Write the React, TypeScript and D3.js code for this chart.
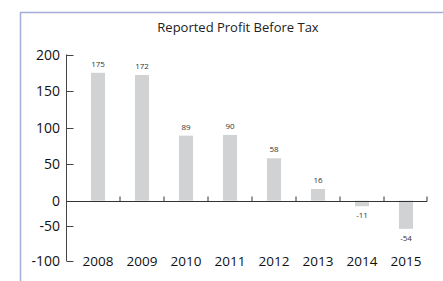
import React, { useRef, useEffect } from "react";
import * as d3 from "d3";

const years = ["2008", "2009", "2010", "2011", "2012", "2013", "2014", "2015"];
const profit = [175, 172, 89, 90, 58, 16, -11, -54];
const yTicks = [200, 150, 100, 50, 0, -50, -100];
const title = "Reported Profit Before Tax";

export default function App() {
  const ref = useRef<SVGSVGElement | null>(null);

  useEffect(() => {
    if (!ref.current) return;
    const W = 443;
    const H = 281;
    const svg = d3.select(ref.current);
    svg.selectAll("*").remove();

    const font = "'Open Sans', 'DejaVu Sans', sans-serif";
    const axisX = 66.5;

    // frame (only top/left visible in the crop)
    svg
      .append("path")
      .attr("d", `M20.5,${H} V12.5 H${W}`)
      .attr("fill", "none")
      .attr("stroke", "#a4acd9")
      .attr("stroke-width", 1.5);

    svg
      .append("text")
      .attr("x", 238)
      .attr("y", 32)
      .attr("text-anchor", "middle")
      .attr("font-family", font)
      .attr("font-size", 13)
      .attr("fill", "#222")
      .text(title);

    // the source axis is not uniform: negative side is compressed
    const y = d3
      .scaleLinear()
      .domain([-100, -50, 0, 200])
      .range([261, 226, 200.7, 54.5]);

    const x = d3.scaleBand().domain(years).range([76, 428]).paddingInner(0.68).paddingOuter(0.34);

    const g = svg.append("g");

    // bars
    g.selectAll("rect.bar")
      .data(profit)
      .enter()
      .append("rect")
      .attr("class", "bar")
      .attr("x", (_d, i) => x(years[i])!)
      .attr("width", x.bandwidth())
      .attr("y", (d) => Math.min(y(d), y(0)))
      .attr("height", (d) => Math.abs(y(d) - y(0)))
      .attr("fill", "#d1d2d4");

    // value labels
    g.selectAll("text.val")
      .data(profit)
      .enter()
      .append("text")
      .attr("class", "val")
      .attr("x", (_d, i) => x(years[i])! + x.bandwidth() / 2)
      .attr("y", (d) => (d >= 0 ? y(d) - 6 : y(d) + 12))
      .attr("text-anchor", "middle")
      .attr("font-family", font)
      .attr("font-size", 8)
      .attr("fill", "#333")
      .text((d) => String(d));

    // y axis
    g.append("line")
      .attr("x1", axisX)
      .attr("x2", axisX)
      .attr("y1", y(200))
      .attr("y2", y(-100))
      .attr("stroke", "#444")
      .attr("stroke-width", 1);

    g.selectAll("line.ytick")
      .data(yTicks)
      .enter()
      .append("line")
      .attr("class", "ytick")
      .attr("x1", axisX)
      .attr("x2", axisX + 7)
      .attr("y1", (d) => Math.round(y(d)) + 0.5)
      .attr("y2", (d) => Math.round(y(d)) + 0.5)
      .attr("stroke", "#444");

    g.selectAll("text.ylab")
      .data(yTicks)
      .enter()
      .append("text")
      .attr("class", "ylab")
      .attr("x", 60)
      .attr("y", (d) => y(d))
      .attr("dy", "0.36em")
      .attr("text-anchor", "end")
      .attr("font-family", font)
      .attr("font-size", 14)
      .attr("fill", "#111")
      .text((d) => String(d));

    // zero baseline with upward ticks between categories
    const y0 = Math.round(y(0)) + 0.5;
    g.append("line")
      .attr("x1", axisX)
      .attr("x2", 427)
      .attr("y1", y0)
      .attr("y2", y0)
      .attr("stroke", "#333")
      .attr("stroke-width", 1.2);

    const step = x.step();
    g.selectAll("line.xtick")
      .data(years)
      .enter()
      .append("line")
      .attr("class", "xtick")
      .attr("x1", (d) => Math.min(x(d)! + x.bandwidth() / 2 + step / 2, 427))
      .attr("x2", (d) => Math.min(x(d)! + x.bandwidth() / 2 + step / 2, 427))
      .attr("y1", y0)
      .attr("y2", y0 - 5)
      .attr("stroke", "#333");

    g.selectAll("text.xlab")
      .data(years)
      .enter()
      .append("text")
      .attr("class", "xlab")
      .attr("x", (d) => x(d)! + x.bandwidth() / 2)
      .attr("y", 266)
      .attr("text-anchor", "middle")
      .attr("font-family", font)
      .attr("font-size", 13.5)
      .attr("fill", "#111")
      .text((d) => d);
  }, []);

  return (
    <svg
      ref={ref}
      width={443}
      height={281}
      style={{ position: "absolute", left: 0, top: 0, background: "#fff" }}
    />
  );
}
